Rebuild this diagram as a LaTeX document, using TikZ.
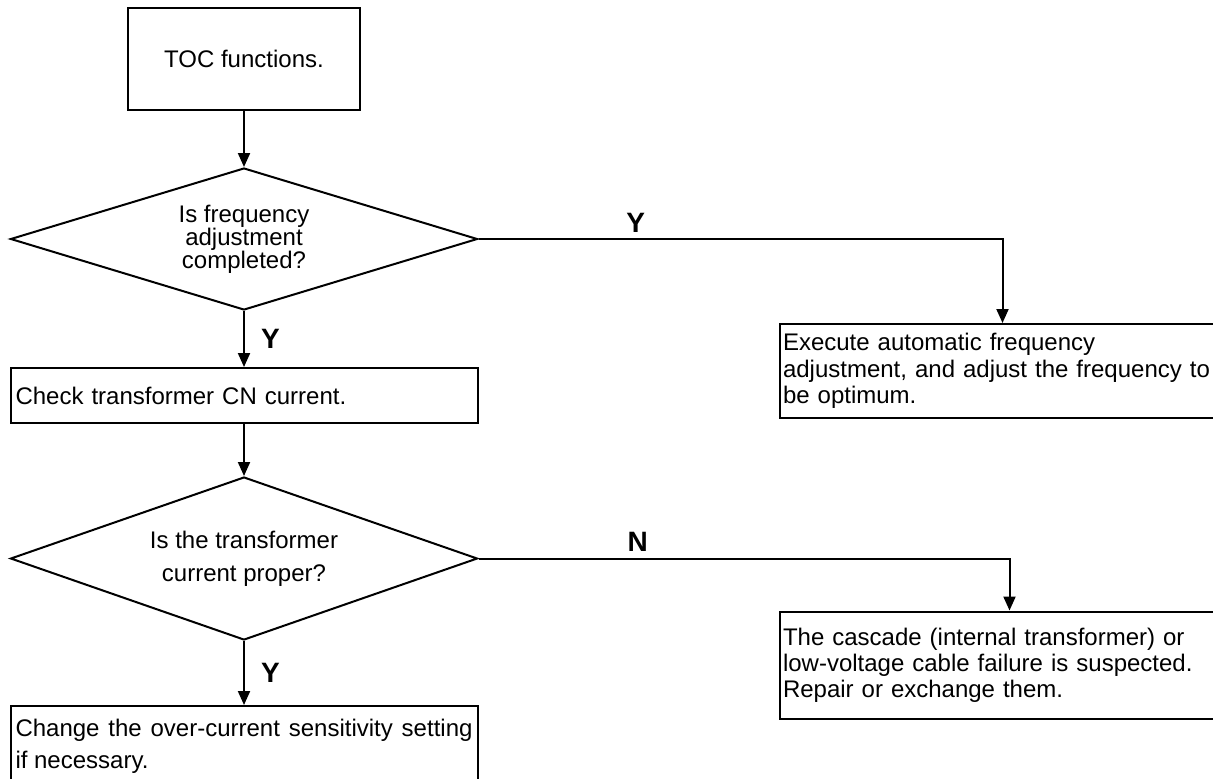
\documentclass[tikz,border=0pt]{standalone}
\usepackage{fontspec}
\setmainfont{Liberation Sans}
\usepackage{tikz}
\usetikzlibrary{shapes.geometric,arrows.meta,positioning}

\begin{document}
\begin{tikzpicture}[x=0.5pt, y=-0.5pt,
		every node/.style={font=\fontsize{12}{13}\selectfont},
		box/.style={rectangle, draw, line width=1pt, inner xsep=2.5pt, inner ysep=0pt, align=left},
		decision/.style={diamond, draw, line width=1pt, inner sep=0pt, align=center, aspect=3},
		yn/.style={font=\fontsize{14}{16}\selectfont\bfseries, inner sep=1pt},
		flow/.style={-{Triangle[length=7pt,width=6pt]}, line width=1pt}]
				\useasboundingbox (0,0) rectangle (1213,778);
				\node[box, minimum width=116pt, minimum height=51pt, align=center] (toc) at (244,59) {TOC functions.};
				\node[decision, minimum width=233.5pt, minimum height=71pt, below=28pt of toc, font=\fontsize{12}{11.5}\selectfont] (freq) {Is frequency\\adjustment\\completed?};
				\node[box, text width=228.5pt, minimum height=27.5pt, below=28pt of freq] (check) {Check transformer CN current.};
				\node[decision, minimum width=233.5pt, minimum height=81.5pt, below=26pt of check, font=\fontsize{12}{16.5}\selectfont] (proper) {Is the transformer\\current proper?};
				\node[box, text width=228.5pt, minimum height=40pt, below=32pt of proper, align=justify, font=\fontsize{12}{16}\selectfont] (change) {Change the over-current sensitivity setting if necessary.};
				\node[box, text width=214pt, inner xsep=1.75pt, minimum height=47pt, below right=42pt and 150pt of freq.east, font=\fontsize{12}{13.25}\selectfont] (auto) {Execute automatic frequency\\adjustment, and adjust the frequency to\\be optimum.};
				\node[box, text width=214pt, inner xsep=1.75pt, minimum height=53.5pt, below right=26pt and 150pt of proper.east] (cascade) {The cascade (internal transformer) or\\low-voltage cable failure is suspected.\\Repair or exchange them.};
				\coordinate[right=262pt of freq.east] (c1);
				\coordinate[right=265.5pt of proper.east] (c2);
				\draw[flow] (toc) -- (freq);
				\draw[flow] (freq) -- node[yn, right=7pt] {Y} (check);
				\draw[flow] (check) -- (proper);
				\draw[flow] (proper) -- node[yn, right=7pt] {Y} (change);
				\draw[flow] (freq.east) -- node[yn, above=2pt, pos=0.3] {Y} (c1) -- (c1 |- auto.north);
				\draw[flow] (proper.east) -- node[yn, above=2pt, pos=0.3] {N} (c2) -- (c2 |- cascade.north);
			\end{tikzpicture}
\end{document}
